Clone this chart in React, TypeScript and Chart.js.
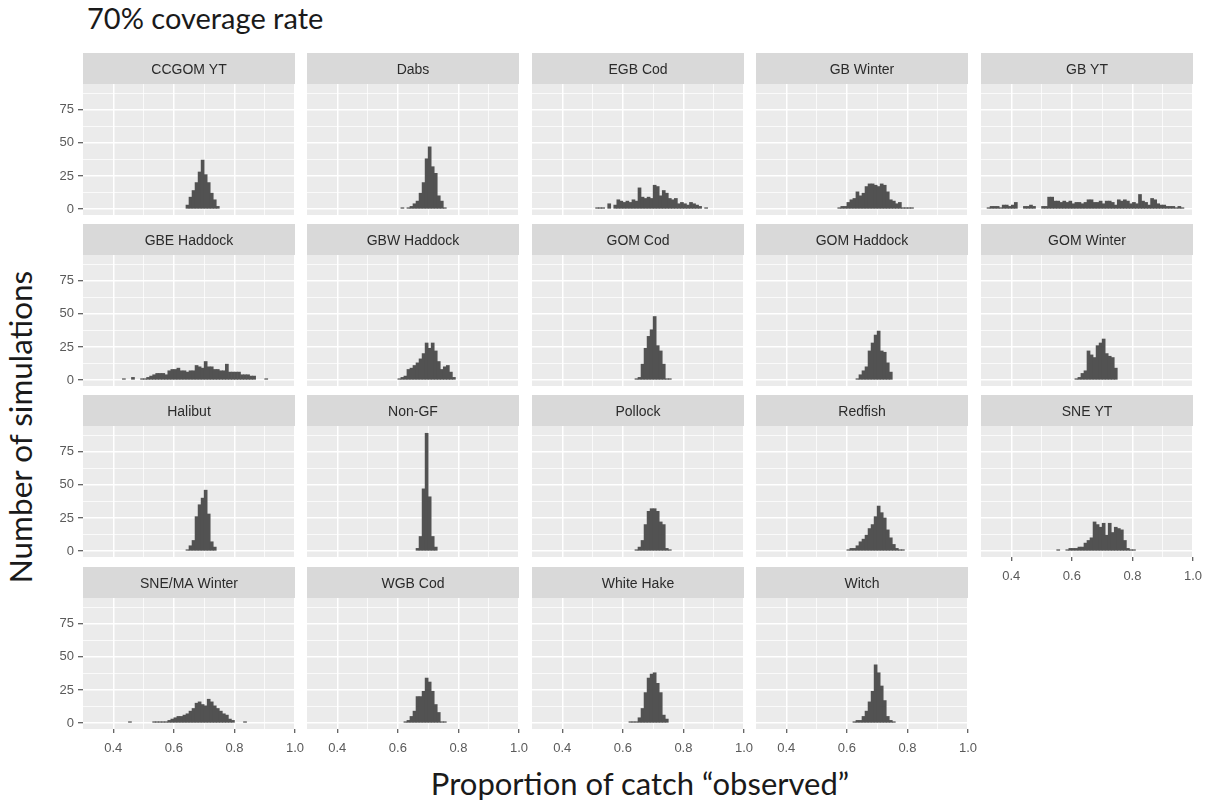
import React, { useEffect, useRef } from "react";
import { Chart, registerables } from "chart.js";

Chart.register(...registerables);
Chart.defaults.font.family = "'Liberation Sans', Arial, sans-serif";

// ---------- data ----------
const BIN_WIDTH = 0.01;

const panelNames = [
  "CCGOM YT", "Dabs", "EGB Cod", "GB Winter", "GB YT",
  "GBE Haddock", "GBW Haddock", "GOM Cod", "GOM Haddock", "GOM Winter",
  "Halibut", "Non-GF", "Pollock", "Redfish", "SNE YT",
  "SNE/MA Winter", "WGB Cod", "White Hake", "Witch",
];

// centre of the first bin of each panel (bins are 0.01 wide)
const firstBinCentres = [
  0.645, 0.615, 0.515, 0.575, 0.325,
  0.435, 0.605, 0.645, 0.635, 0.615,
  0.645, 0.665, 0.645, 0.605, 0.555,
  0.455, 0.625, 0.625, 0.625,
];

const ccgomYT = [3, 9, 14, 20, 28, 37, 26, 20, 12, 7, 2];
const dabs = [1, 0, 1, 2, 4, 6, 12, 20, 38, 47, 32, 27, 10, 6, 1];
const egbCod = [1, 1, 1, 0, 4, 0, 3, 7, 6, 5, 6, 5, 7, 6, 16, 9, 8, 9, 8, 18, 17, 10, 14, 12, 8, 7, 8, 4, 5, 4, 3, 5, 4, 3, 2, 0, 1];
const gbWinter = [1, 2, 2, 5, 7, 8, 13, 10, 12, 17, 19, 19, 18, 17, 19, 18, 13, 7, 6, 4, 5, 1, 1, 1, 1];
const gbYT = [
  1, 2, 2, 2, 1, 3, 3, 2, 3, 5,
  0, 0, 2, 2, 3, 2, 0, 0, 2, 2,
  9, 9, 6, 6, 5, 6, 5, 6, 4, 5,
  5, 4, 5, 7, 7, 5, 5, 6, 4, 6,
  6, 5, 3, 7, 6, 7, 6, 4, 5, 4,
  11, 6, 5, 3, 8, 7, 4, 3, 3, 2,
  2, 2, 1, 2, 1,
];
const gbeHaddock = [
  1, 0, 0, 2, 0, 0, 1, 1, 2, 3,
  4, 5, 5, 5, 4, 7, 8, 8, 9, 7,
  7, 6, 7, 7, 11, 10, 9, 14, 10, 10,
  8, 8, 7, 7, 12, 6, 6, 6, 6, 4,
  4, 4, 3, 3, 0, 0, 0, 1,
];
const gbwHaddock = [1, 2, 3, 8, 9, 11, 13, 16, 20, 28, 24, 28, 22, 14, 8, 10, 11, 6, 2];
const gomCod = [1, 2, 12, 24, 33, 38, 48, 26, 22, 12, 1, 1];
const gomHaddock = [1, 4, 7, 10, 22, 28, 34, 37, 22, 21, 13, 6];
const gomWinter = [1, 2, 5, 7, 22, 19, 17, 26, 28, 31, 20, 18, 17, 9];
const halibut = [1, 4, 8, 26, 35, 40, 46, 28, 7, 3];
const nonGF = [2, 11, 47, 89, 41, 11, 3];
const pollock = [1, 3, 8, 20, 30, 32, 32, 30, 22, 20, 2, 1];
const redfish = [1, 2, 2, 4, 7, 9, 12, 17, 20, 26, 34, 29, 25, 16, 10, 5, 2, 1, 1];
const sneYT = [1, 0, 0, 1, 2, 2, 2, 3, 3, 6, 8, 10, 22, 20, 18, 21, 12, 21, 14, 18, 17, 16, 8, 2, 1, 1];
const sneMAWinter = [
  1, 0, 0, 0, 0, 0, 0, 0,
  1, 1, 1, 1, 1,
  2, 3, 4, 5, 5, 6, 7,
  9, 11, 15, 16, 14, 13, 18, 16, 13, 11, 9,
  7, 6, 3, 2, 0, 0, 0, 1,
];
const wgbCod = [1, 2, 5, 9, 20, 20, 24, 34, 31, 24, 14, 8, 1, 1];
const whiteHake = [1, 1, 1, 4, 11, 23, 34, 37, 38, 30, 23, 6, 3];
const witch = [1, 2, 2, 5, 9, 16, 24, 44, 38, 28, 17, 5, 2, 1];

const panelCounts = [
  ccgomYT, dabs, egbCod, gbWinter, gbYT,
  gbeHaddock, gbwHaddock, gomCod, gomHaddock, gomWinter,
  halibut, nonGF, pollock, redfish, sneYT,
  sneMAWinter, wgbCod, whiteHake, witch,
];

const xTickValues = [0.3, 0.4, 0.5, 0.6, 0.7, 0.8, 0.9, 1.0];
const xMajorTicks = [0.4, 0.6, 0.8, 1.0];
const yTickValues = [0, 12.5, 25, 37.5, 50, 62.5, 75, 87.5];
const yMajorTicks = [0, 25, 50, 75];

// ---------- layout / style ----------
const X_MIN = 0.3;
const X_MAX = 1.0;
const Y_MIN = -4.5;
const Y_MAX = 94.5;

const PANEL_W = 212;
const PANEL_H = 131;
const STRIP_H = 31;
const COL_LEFT = [83, 307, 532, 756, 981];
const ROW_TOP = [84, 255, 426, 598];
const Y_AXIS_W = 30;
const X_AXIS_H = 30;
const RIGHT_PAD = 22;

const PANEL_BG = "#EBEBEB";
const STRIP_BG = "#D9D9D9";
const STRIP_TEXT = "#2b2b2b";
const BAR_COLOR = "#525252";
const TICK_TEXT = "#5a5a5a";
const TICK_MARK = "#333333";

const near = (a: number, b: number) => Math.abs(a - b) < 1e-6;
const isIn = (v: number, list: number[]) => list.some((m) => near(m, v));

function facetPlugin(name: string) {
  return {
    id: "facetDecor",
    beforeDraw(chart: any) {
      const { ctx, chartArea: a } = chart;
      ctx.save();
      ctx.fillStyle = PANEL_BG;
      ctx.fillRect(a.left, a.top, a.right - a.left, a.bottom - a.top);
      ctx.fillStyle = STRIP_BG;
      ctx.fillRect(a.left, a.top - STRIP_H, a.right - a.left, STRIP_H);
      ctx.fillStyle = STRIP_TEXT;
      ctx.font = "14px 'Liberation Sans', Arial, sans-serif";
      ctx.textAlign = "center";
      ctx.textBaseline = "middle";
      ctx.fillText(name, (a.left + a.right) / 2, a.top - STRIP_H / 2 + 1.5);
      ctx.restore();
    },
  };
}

function Panel({ index }: { index: number }) {
  const ref = useRef<HTMLCanvasElement | null>(null);
  const col = index % 5;
  const row = Math.floor(index / 5);
  const showY = col === 0;
  const showX = row === 3 || index === 14;
  const width = Y_AXIS_W + PANEL_W + RIGHT_PAD;
  const height = STRIP_H + PANEL_H + X_AXIS_H;
  const left = COL_LEFT[col] - Y_AXIS_W;
  const top = ROW_TOP[row] - STRIP_H;

  useEffect(() => {
    if (!ref.current) return;
    const counts = panelCounts[index];
    const start = firstBinCentres[index];
    const data = counts.map((c, i) => ({
      x: Math.round((start + i * BIN_WIDTH) * 1000) / 1000,
      y: c === 0 ? null : c,
    }));
    const chart = new Chart(ref.current, {
      type: "bar",
      data: {
        datasets: [
          {
            data: data as any,
            backgroundColor: BAR_COLOR,
            borderWidth: 0,
            barPercentage: 1,
            categoryPercentage: 1,
          },
        ],
      },
      options: {
        animation: false,
        responsive: false,
        maintainAspectRatio: false,
        devicePixelRatio: 1,
        events: [],
        layout: {
          padding: {
            left: showY ? 0 : Y_AXIS_W,
            right: RIGHT_PAD,
            top: STRIP_H,
            bottom: showX ? 0 : X_AXIS_H,
          },
        },
        plugins: {
          legend: { display: false },
          tooltip: { enabled: false },
          title: { display: false },
        },
        scales: {
          x: {
            type: "linear",
            min: X_MIN,
            max: X_MAX,
            offset: false,
            afterBuildTicks: (s: any) => {
              s.ticks = xTickValues.map((v) => ({ value: v }));
            },
            afterFit: (s: any) => {
              s.height = showX ? X_AXIS_H : 0;
            },
            border: { display: false },
            grid: {
              offset: false,
              drawTicks: showX,
              tickLength: 4,
              color: (c: any) =>
                c.tick && near(c.tick.value, X_MIN) ? "rgba(0,0,0,0)" : "#FFFFFF",
              lineWidth: (c: any) => (c.tick && isIn(c.tick.value, xMajorTicks) ? 1.5 : 0.75),
              tickColor: (c: any) =>
                c.tick && isIn(c.tick.value, xMajorTicks) ? TICK_MARK : "rgba(0,0,0,0)",
              tickWidth: 1,
            },
            ticks: {
              display: showX,
              autoSkip: false,
              maxRotation: 0,
              minRotation: 0,
              padding: 8,
              color: TICK_TEXT,
              font: { size: 13 },
              callback: (v: any) => (isIn(Number(v), xMajorTicks) ? Number(v).toFixed(1) : ""),
            },
          },
          y: {
            type: "linear",
            min: Y_MIN,
            max: Y_MAX,
            afterBuildTicks: (s: any) => {
              s.ticks = yTickValues.map((v) => ({ value: v }));
            },
            afterFit: (s: any) => {
              s.width = showY ? Y_AXIS_W : 0;
            },
            border: { display: false },
            grid: {
              drawTicks: showY,
              tickLength: 5,
              color: "#FFFFFF",
              lineWidth: (c: any) => (c.tick && isIn(c.tick.value, yMajorTicks) ? 1.5 : 0.75),
              tickColor: (c: any) =>
                c.tick && isIn(c.tick.value, yMajorTicks) ? TICK_MARK : "rgba(0,0,0,0)",
              tickWidth: 1,
            },
            ticks: {
              display: showY,
              autoSkip: false,
              padding: 4,
              color: TICK_TEXT,
              font: { size: 13 },
              callback: (v: any) => (isIn(Number(v), yMajorTicks) ? String(v) : ""),
            },
          },
        },
      },
      plugins: [facetPlugin(panelNames[index])],
    });
    return () => chart.destroy();
  }, [index]);

  return (
    <canvas
      ref={ref}
      width={width}
      height={height}
      style={{ position: "absolute", left, top, width, height }}
    />
  );
}

const titleFont = "Lato, 'Open Sans', 'Noto Sans', sans-serif";

export default function App() {
  return (
    <div
      style={{
        position: "absolute",
        left: 0,
        top: 0,
        width: 1217,
        height: 805,
        background: "#FFFFFF",
        overflow: "hidden",
      }}
    >
      <div
        style={{
          position: "absolute",
          left: 87,
          top: 3,
          fontFamily: titleFont,
          fontSize: 29,
          lineHeight: 1,
          color: "#1a1a1a",
          whiteSpace: "nowrap",
        }}
      >
        70% coverage rate
      </div>
      {panelNames.map((_, i) => (
        <Panel key={i} index={i} />
      ))}
      <div
        style={{
          position: "absolute",
          left: 640,
          top: 783,
          transform: "translate(-50%, -50%)",
          fontFamily: titleFont,
          fontSize: 31,
          lineHeight: 1,
          color: "#1a1a1a",
          whiteSpace: "nowrap",
        }}
      >
        Proportion of catch “observed”
      </div>
      <div
        style={{
          position: "absolute",
          left: 21,
          top: 427,
          transform: "translate(-50%, -50%) rotate(-90deg)",
          fontFamily: titleFont,
          fontSize: 31.5,
          lineHeight: 1,
          color: "#1a1a1a",
          whiteSpace: "nowrap",
        }}
      >
        Number of simulations
      </div>
    </div>
  );
}
